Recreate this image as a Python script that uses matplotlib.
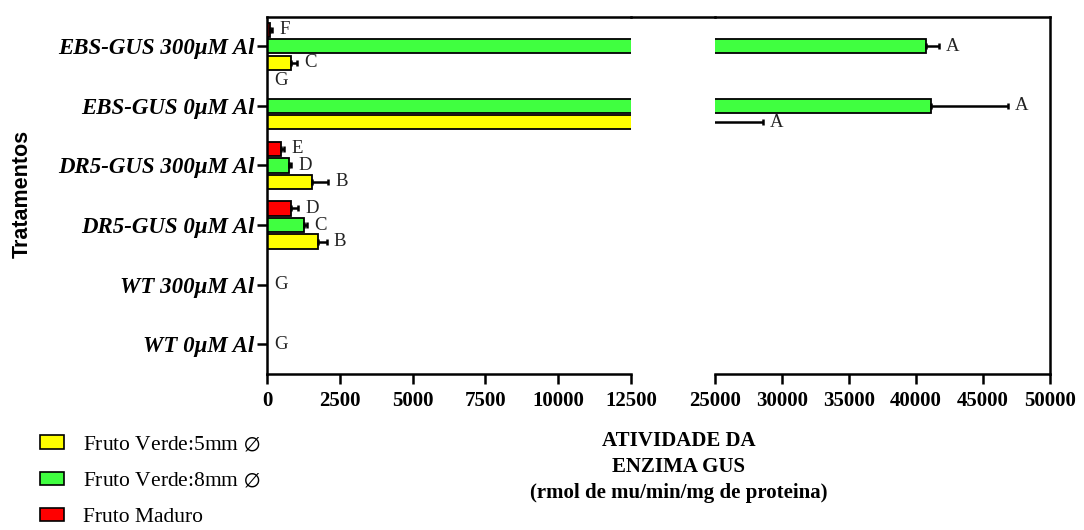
import matplotlib
matplotlib.use("Agg")
import matplotlib.pyplot as plt
import numpy as np
from matplotlib.lines import Line2D
from matplotlib.patches import Patch

# ── data (bottom -> top) ─────────────────────────────────────────────────────
treatments = ["WT 0μM Al", "WT 300μM Al", "DR5-GUS 0μM Al",
              "DR5-GUS 300μM Al", "EBS-GUS 0μM Al", "EBS-GUS 300μM Al"]

yellow_vals = [0, 0, 1750, 1560, 22000, 840]
yellow_err = [0, 0, 310, 550, 6580, 190]
yellow_letters = ["", "", "B", "B", "A", "C"]

green_vals = [0, 0, 1270, 755, 41100, 40750]
green_err = [0, 0, 100, 70, 5770, 950]
green_letters = ["G", "G", "C", "D", "A", "A"]

red_vals = [0, 0, 815, 470, 0, 100]
red_err = [0, 0, 250, 130, 0, 80]
red_letters = ["", "", "D", "E", "G", "F"]

series_names = [r"Fruto Verde:5mm $\emptyset$", r"Fruto Verde:8mm $\emptyset$",
                "Fruto Maduro"]
series_colors = ["#FFFF00", "#40FF40", "#FF0000"]

left_ticks = [0, 2500, 5000, 7500, 10000, 12500]
right_ticks = [25000, 30000, 35000, 40000, 45000, 50000]

SERIF = ["Liberation Serif", "DejaVu Serif"]
plt.rcParams["font.family"] = SERIF
plt.rcParams["mathtext.fontset"] = "dejavuserif"

W, H = 1084, 530
fig = plt.figure(figsize=(W / 100, H / 100), dpi=100)
y0, y1 = 1 - 374 / H, 1 - 17 / H
ax_l = fig.add_axes([267 / W, y0, (631 - 267) / W, y1 - y0])
ax_r = fig.add_axes([715 / W, y0, (1050 - 715) / W, y1 - y0], sharey=ax_l)

ypos = np.arange(len(treatments))
offsets = [-0.277, 0.0, 0.277]
bar_h = 0.24
series = [
    (yellow_vals, yellow_err, yellow_letters),
    (green_vals, green_err, green_letters),
    (red_vals, red_err, red_letters),
]

for ax in (ax_l, ax_r):
    for (vals, errs, _), off, col in zip(series, offsets, series_colors):
        vals = np.array(vals, float)
        errs = np.array(errs, float)
        ax.barh(ypos + off, vals, height=bar_h, color=col,
                edgecolor="black", linewidth=1.3, zorder=2)
        m = errs > 0
        ax.errorbar(vals[m], (ypos + off)[m],
                    xerr=[np.zeros(m.sum()), errs[m]], fmt="none",
                    ecolor="black", elinewidth=1.8, capsize=2,
                    capthick=1.8, zorder=3)

# letters of significance
for (vals, errs, letters), off in zip(series, offsets):
    for i, (v, e, t) in enumerate(zip(vals, errs, letters)):
        if not t:
            continue
        end = v + e
        y = ypos[i] + off
        dy = 0
        if v == 0 and off == offsets[2] and i == 4:
            dy = 6.5  # label sits a little above the empty bar
        ax = ax_l if end <= left_ticks[-1] else ax_r
        ax.annotate(t, (end, y), xytext=(5, dy), textcoords="offset points",
                    ha="left", va="center", fontsize=13.5, color="#222222",
                    annotation_clip=False)

ax_l.set_xlim(0, 12500)
ax_r.set_xlim(25000, 50000)
ax_l.set_ylim(-0.5, 5.49)

ax_l.set_xticks(left_ticks)
ax_r.set_xticks(right_ticks)
ax_l.set_yticks(ypos)
ax_l.set_yticklabels(treatments, fontsize=16.5, fontweight="bold",
                     fontstyle="italic")
ax_r.tick_params(axis="y", left=False, labelleft=False)

for ax in (ax_l, ax_r):
    ax.tick_params(axis="both", direction="out", length=7, width=1.8,
                   colors="black")
    ax.tick_params(axis="x", labelsize=15, pad=5)
    ax.tick_params(axis="y", pad=2)
    for lab in ax.get_xticklabels():
        lab.set_fontweight("bold")
    for sp in ax.spines.values():
        sp.set_linewidth(1.8)

ax_l.spines["right"].set_visible(False)
ax_r.spines["left"].set_visible(False)

# top spine runs across the break
fig.add_artist(Line2D([631 / W, 715 / W], [y1, y1], color="black",
                      linewidth=1.8, transform=fig.transFigure))

fig.text(22 / W, 1 - 194 / H, "Tratamentos", rotation=90, ha="center",
         va="center", fontsize=15.5, fontweight="bold",
         family=["Liberation Sans", "DejaVu Sans"])

fig.text(679 / W, 1 - 467 / H,
         "ATIVIDADE DA\nENZIMA GUS\n(rmol de mu/min/mg de proteina)",
         ha="center", va="center", fontsize=15, fontweight="bold",
         linespacing=1.4)

handles = [Patch(facecolor=c, edgecolor="black", linewidth=1.2)
           for c in series_colors]
fig.legend(handles, series_names, loc="upper left",
           bbox_to_anchor=(21 / W, 1 - 416 / H), frameon=False,
           fontsize=15.5, handlelength=1.1, handleheight=0.6,
           handletextpad=0.9, labelspacing=0.78)

fig.savefig("out.png", dpi=100)
